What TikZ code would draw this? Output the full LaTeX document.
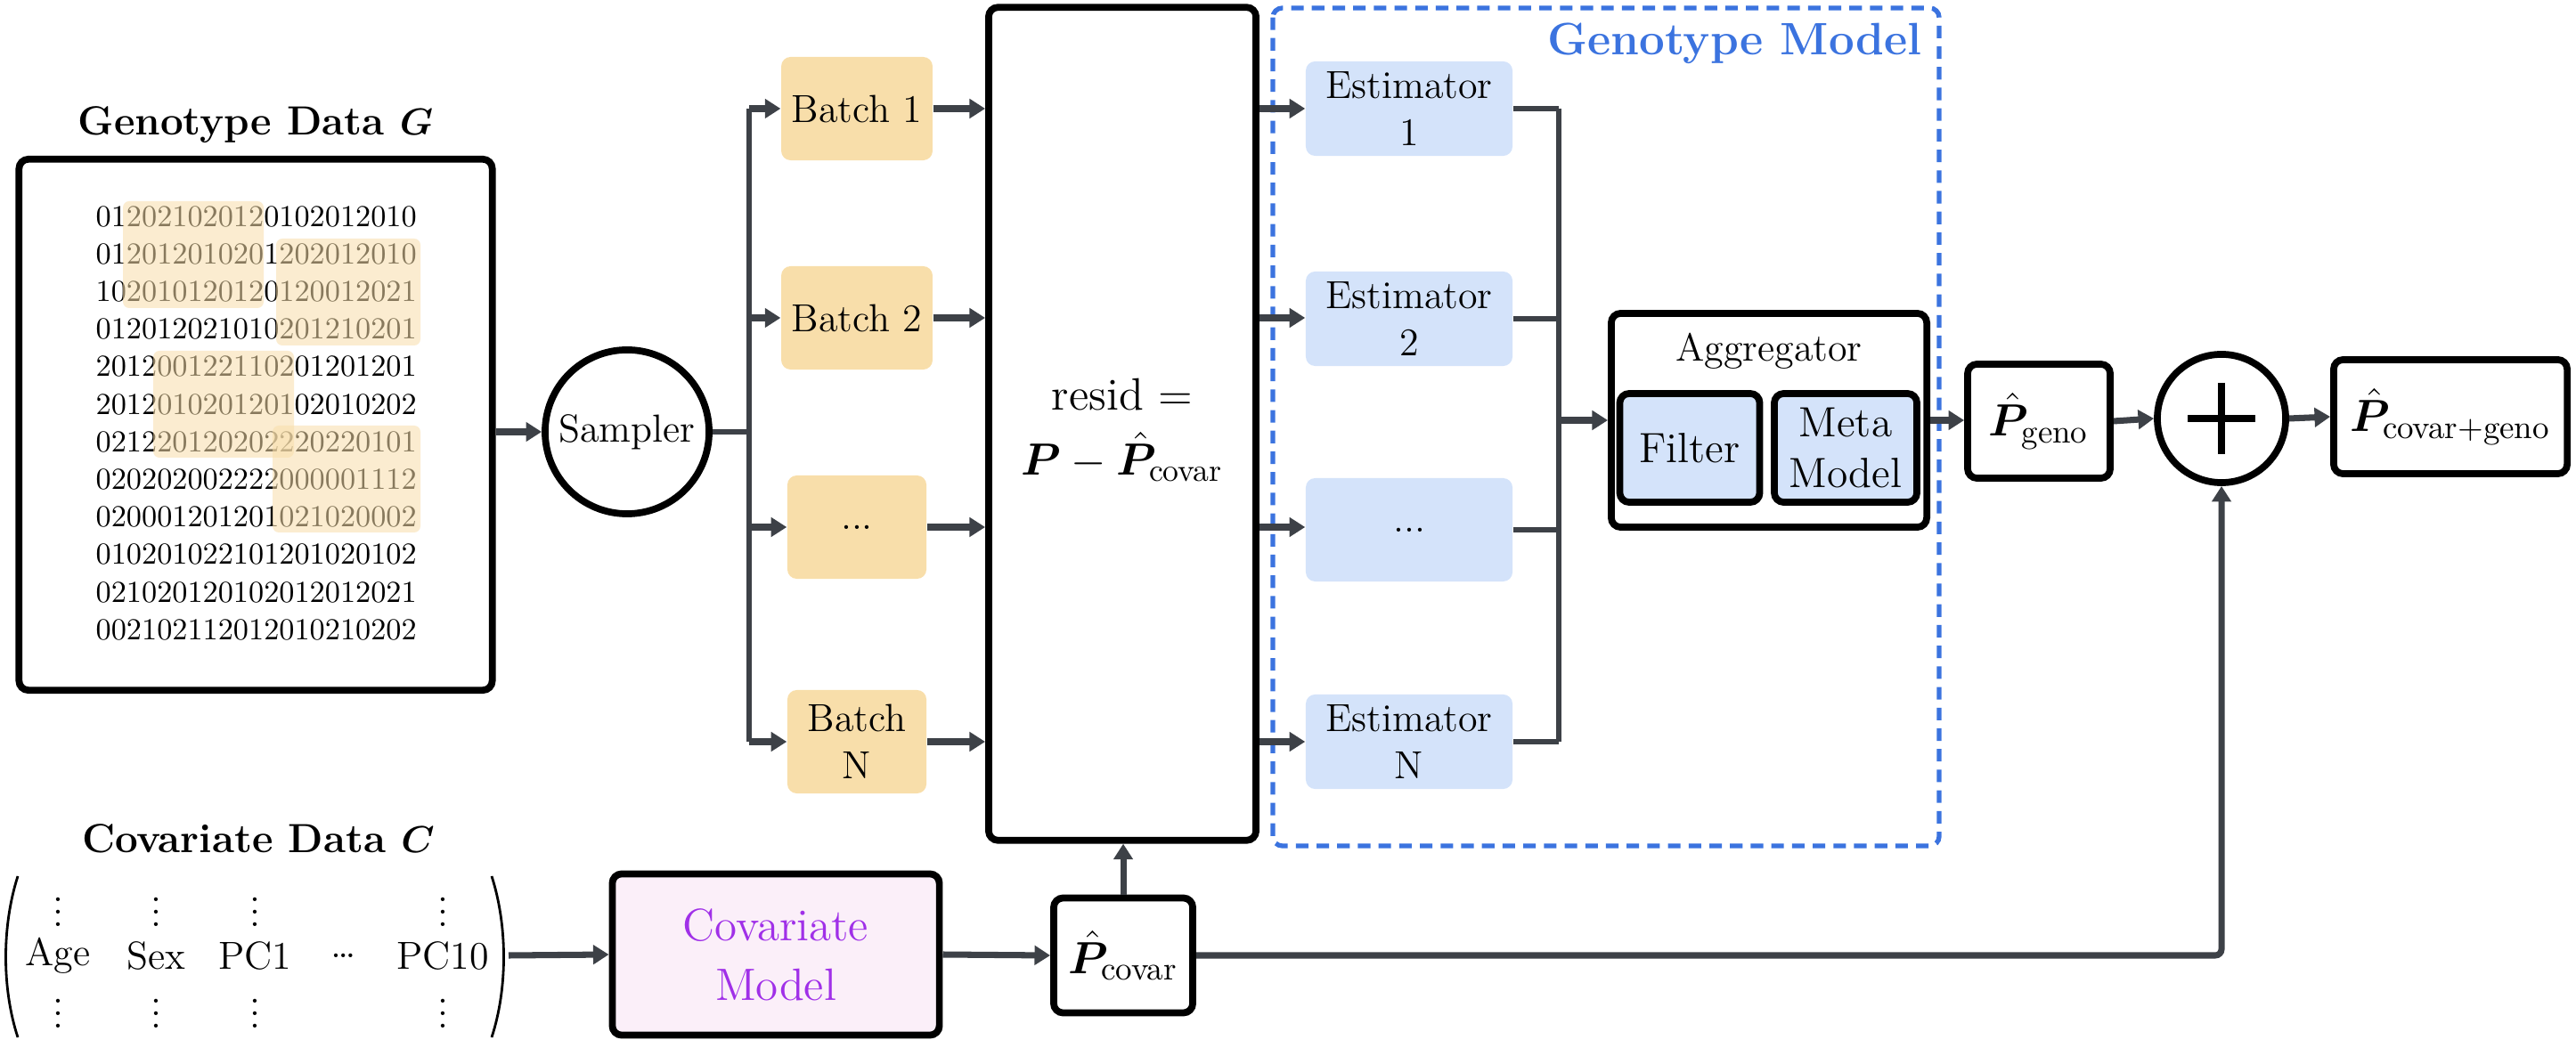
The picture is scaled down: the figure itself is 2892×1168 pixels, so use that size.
\documentclass[tikz,border=0pt]{standalone}
\usepackage{amsmath,amssymb,bm}
\usetikzlibrary{arrows.meta,positioning}
\definecolor{arrgray}{HTML}{3D4147}
\definecolor{batchfill}{HTML}{F8DEAA}
\definecolor{estfill}{HTML}{D4E3FA}
\definecolor{covfill}{HTML}{FBEFF9}
\definecolor{covtext}{HTML}{A030E8}
\definecolor{genoblue}{HTML}{3B73DF}
\definecolor{hlfill}{HTML}{F8DEAA}
\tikzset{
  blk/.style={draw=black, line width=2.2pt, rounded corners=3pt, fill=white, align=center, inner sep=0pt},
  batchbox/.style={fill=batchfill, rounded corners=3pt, minimum width=1.56cm, minimum height=1.16cm, align=center, font=\fontsize{12.5}{15}\selectfont},
  estbox/.style={fill=estfill, rounded corners=3pt, minimum width=2.32cm, minimum height=1cm, align=center, font=\fontsize{12.5}{15}\selectfont},
  arr/.style={draw=arrgray, line width=2pt, -{Triangle[length=5pt,width=6pt]}},
  lin/.style={draw=arrgray, line width=1.8pt, rounded corners=2pt},
  digits/.style={font=\fontsize{9.75}{11}\selectfont, inner sep=0pt, anchor=west},
  hl/.style={fill=hlfill, fill opacity=0.55, rounded corners=2pt},
}
\begin{document}
\begin{tikzpicture}[x=0.01cm, y=-0.01cm, font=\fontsize{12.5}{15}\selectfont]
\useasboundingbox (0,0) rectangle (2892,1168);
% genotype data
\node[font=\fontsize{13}{15}\selectfont\bfseries] (genotitle) at (287,140) {Genotype Data $\bm{G}$};
\node[blk, minimum width=5.31cm, minimum height=5.96cm] (geno) at (287,477) {};
\foreach \r [count=\i] in {012021020120102012010,012012010201202012010,102010120120120012021,012012021010201210201,201200122110201201201,201201020120102010202,021220120202220220101,020202002222000001112,020001201201021020002,010201022101201020102,021020120102012012021,002102112012010210202}
  \node[digits] (row\i) at (107,{243+42.2*(\i-1)}) {\r};
% highlighted blocks
\fill[hl] (138,226) rectangle (296,346);
\fill[hl] (310,268) rectangle (472,388);
\fill[hl] (172,394) rectangle (330,514);
\fill[hl] (306,478) rectangle (472,598);
% sampler
\node[draw, line width=2.2pt, circle, minimum size=1.84cm, inner sep=0pt] (sampler) at (704,485) {Sampler};
\draw[arr] (geno.east |- sampler) -- (sampler);
% batches
\node[batchbox] (b1) at (962,122) {Batch 1};
\node[batchbox] (b2) at (962,357) {Batch 2};
\node[batchbox] (b3) at (962,592) {...};
\node[batchbox] (b4) at (962,833) {Batch\\N};
\coordinate (trunk) at (841,485);
\draw[lin] (sampler) -- (trunk);
\draw[lin] (trunk |- b1) -- (trunk |- b4);
\foreach \b in {b1,b2,b3,b4}
  \draw[arr] (trunk |- \b) -- (\b.west);
% residual box
\node[blk, minimum width=3cm, minimum height=9.35cm] (resid) at (1260,476) {};
\node[font=\fontsize{14.5}{17}\selectfont] (residtxt) at (1260,443) {resid $=$};
\node[font=\fontsize{14.5}{17}\selectfont] (residfml) at (1260,513) {$\bm{P} - \hat{\bm{P}}_{\text{covar}}$};
\foreach \b in {b1,b2,b3,b4}
  \draw[arr] (\b.east) -- (resid.west |- \b);
% genotype model
\draw[genoblue, line width=1.5pt, dash pattern=on 4pt off 2.6pt, rounded corners=3pt] (1429,9) rectangle (2177,950);
\node[anchor=north east, text=genoblue, font=\fontsize{14.5}{16}\selectfont\bfseries] (genomodel) at (2170,14) {Genotype Model};
\node[estbox] (e1) at (1582,122) {Estimator\\1};
\node[estbox] (e2) at (1582,358) {Estimator\\2};
\node[estbox, minimum height=1.16cm] (e3) at (1582,595) {...};
\node[estbox] (e4) at (1582,833) {Estimator\\N};
\foreach \b/\e in {b1/e1,b2/e2,b3/e3,b4/e4}
  \draw[arr] (resid.east |- \b) -- (\e.west |- \b);
\coordinate (collect) at (1750,472);
\foreach \e in {e1,e2,e3,e4}
  \draw[lin] (\e.east) -- (collect |- \e);
\draw[lin] (collect |- e1) -- (collect |- e4);
% aggregator
\node[blk, minimum width=3.54cm, minimum height=2.4cm] (agg) at (1986,472) {};
\node (aggtxt) at (1986,394) {Aggregator};
\node[blk, fill=estfill, minimum width=1.57cm, minimum height=1.22cm, font=\fontsize{13.5}{16}\selectfont] (filter) at (1897,503) {Filter};
\node[blk, fill=estfill, minimum width=1.6cm, minimum height=1.22cm, font=\fontsize{13.5}{16}\selectfont] (meta) at (2072,503) {Meta\\Model};
\draw[arr] (collect) -- (agg.west);
% outputs
\node[blk, minimum width=1.6cm, minimum height=1.28cm, font=\fontsize{15}{17}\selectfont] (pgeno) at (2289,473) {$\hat{\bm{P}}_{\text{geno}}$};
\draw[arr] (agg.east) -- (pgeno.west |- agg);
\node[draw, line width=2.2pt, circle, minimum size=1.44cm, inner sep=0pt] (plus) at (2494,470) {};
\draw[line width=2.2pt] (plus.center) ++(0,-40) -- ++(0,80) (plus.center) ++(-38,0) -- ++(76,0);
\draw[arr] (pgeno.east) -- (plus.west);
\node[blk, minimum width=2.62cm, minimum height=1.28cm, font=\fontsize{15}{17}\selectfont] (final) at (2751,468) {$\hat{\bm{P}}_{\text{covar+geno}}$};
\draw[arr] (plus.east) -- (final.west);
% covariate data
\node[font=\fontsize{13}{15}\selectfont\bfseries] (covtitle) at (290,942) {Covariate Data $\bm{C}$};
\foreach \x/\t [count=\i] in {65/Age,175/Sex,286/PC1,386/\dots,497/PC10}
  \node (cov\i) at (\x,1073) {\t};
\foreach \x in {65,175,286,497} {
  \node (dt\x) at (\x,1014) {$\vdots$};
  \node (db\x) at (\x,1128) {$\vdots$};
}
\draw[line width=0.8pt] (20,984) .. controls (2,1040) and (2,1110) .. (20,1165);
\draw[line width=0.8pt] (552,984) .. controls (570,1040) and (570,1110) .. (552,1165);
\coordinate (covmat) at (571,1073);
\node[blk, fill=covfill, text=covtext, minimum width=3.67cm, minimum height=1.81cm, font=\fontsize{14.5}{19}\selectfont] (covmodel) at (871,1072) {Covariate\\Model};
\draw[arr] (covmat) -- (covmodel.west);
\node[blk, minimum width=1.56cm, minimum height=1.29cm, font=\fontsize{15}{17}\selectfont] (pcovar) at (1261,1073) {$\hat{\bm{P}}_{\text{covar}}$};
\draw[arr] (covmodel.east) -- (pcovar.west);
\draw[arr] (pcovar.north) -- (resid.south -| pcovar);
\draw[arr, rounded corners=2pt] (pcovar.east) -- (plus |- pcovar) -- (plus.south);
\end{tikzpicture}
\end{document}
